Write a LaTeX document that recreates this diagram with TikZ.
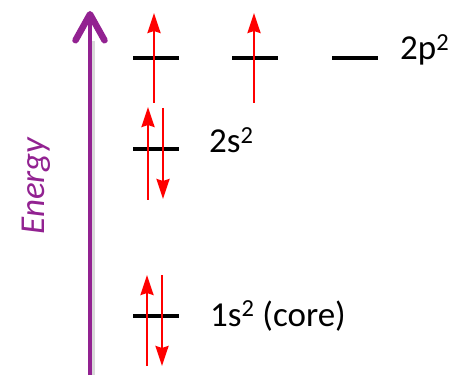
\documentclass[tikz,border=0pt]{standalone}
\usepackage{fontspec}
\setmainfont{Carlito}
\usepackage{tikz}
\usetikzlibrary{arrows.meta}
\definecolor{energypurple}{RGB}{146,34,145}

\begin{document}
\begin{tikzpicture}[x=1pt, y=1pt,
  level/.style={fill=black, minimum width=46pt, minimum height=4.5pt, inner sep=0pt},
  lab/.style={anchor=base west, inner sep=0pt, font=\fontsize{35}{40}\selectfont},
  elec/.style={red, line width=2.5pt, -{Stealth[length=20pt,width=13pt,inset=2pt]}},
  energy/.style={energypurple, line width=4.5pt, -{Straight Barb[length=26pt,width=29pt,line width=6.5pt,line cap=round,line join=round]}},
  shadow/.style={black!15, line width=4pt}
]
\useasboundingbox (0,0) rectangle (452,375);

\coordinate (ebot) at (90,0);
\coordinate (etop) at (90,364);
\draw[shadow] ([xshift=3pt]ebot) -- ([xshift=3pt,yshift=-30pt]etop);
\draw[energy] (ebot) -- (etop);
\node[rotate=90, anchor=base, inner sep=0pt, text=energypurple, font=\fontsize{35}{40}\selectfont\itshape] (elab) at (44,189) {Energy};

% levels
\node[level] (p1) at (155.5,317) {};
\node[level] (p2) at (255,317) {};
\node[level] (p3) at (354.5,317) {};
\node[level] (s2) at (155.5,226) {};
\node[level] (s1) at (155.5,59) {};

\node[lab] (p2lab) at (400,315) {2p\textsuperscript{2}};
\node[lab] (s2lab) at (209,222) {2s\textsuperscript{2}};
\node[lab] (s1lab) at (210,49) {1s\textsuperscript{2} (core)};

% electrons
\draw[elec] ([xshift=-1.5pt,yshift=-45pt]p1.center) -- ([xshift=-1.5pt,yshift=45pt]p1.center);
\draw[elec] ([xshift=-1pt,yshift=-45pt]p2.center) -- ([xshift=-1pt,yshift=45pt]p2.center);
\draw[elec] ([xshift=-7.5pt,yshift=-51pt]s2.center) -- ([xshift=-7.5pt,yshift=42pt]s2.center);
\draw[elec] ([xshift=7.5pt,yshift=41pt]s2.center) -- ([xshift=7.5pt,yshift=-50pt]s2.center);
\draw[elec] ([xshift=-8.5pt,yshift=-50pt]s1.center) -- ([xshift=-8.5pt,yshift=41pt]s1.center);
\draw[elec] ([xshift=6.5pt,yshift=41pt]s1.center) -- ([xshift=6.5pt,yshift=-50pt]s1.center);

\end{tikzpicture}
\end{document}
